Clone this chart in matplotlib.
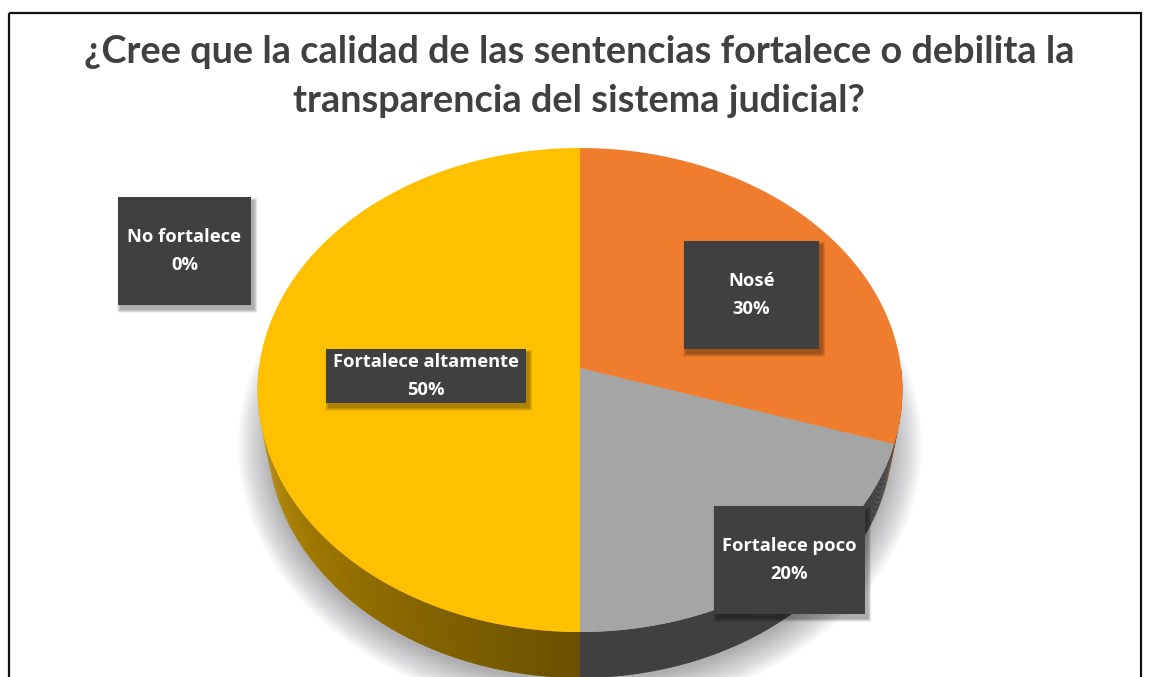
import numpy as np
import matplotlib
matplotlib.use('Agg')
import matplotlib.pyplot as plt
from matplotlib.patches import Rectangle

# Chart data
title_lines = ['¿Cree que la calidad de las sentencias fortalece o debilita la',
	'transparencia del sistema judicial?']
categories = ['Nosé', 'Fortalece poco', 'Fortalece altamente', 'No fortalece']
values = [30, 20, 50, 0]
slice_colors = ['#F07C2E', '#A5A5A5', '#FFC000', '#5B9BD5']
wall_colors = ['#8C4A1D', '#404040', '#6A5000', '#375D80']
# label box: left, top, right, bottom
boxes = [(684, 241, 819, 349), (714, 506, 865, 614), (326, 349, 526, 403), (118, 197, 251, 305)]

CX, CY = 580, 368
A, B, K = 321, 240, 0.0909
DEPTH = 46

# perspective view of the unit circle, gives the off centre apex
def project(angle, r=1.0):
	u = r * np.sin(angle)
	v = r * np.cos(angle)
	d = 1 + K * v
	return CX + A * u / d, CY - B * v / d

def rim_bottom(angle):
	x, y = project(angle)
	return CX + (x - CX) * 0.97, y + DEPTH

def draw_wall(ax, t0, t1, color, fade=False):
	edges = np.linspace(t0, t1, 81)
	for i in range(80):
		ts = np.linspace(edges[i], edges[i + 1] + 0.003, 3)
		xa, ya = project(ts)
		xb, yb = rim_bottom(ts[::-1])
		col = np.array(matplotlib.colors.to_rgb(color))
		if fade:
			# lighter towards the left side of the pie
			f = (edges[i] - np.pi) / (t1 - np.pi)
			col = col * (1 + 0.85 * f)
		ax.fill(np.r_[xa, xb], np.r_[ya, yb], color=np.clip(col, 0, 1), lw=0, zorder=3)

def draw_shadow(ax):
	ts = np.linspace(0, 2 * np.pi, 240)
	for i in range(24):
		grow = 24 - i * 1.4
		ax.fill(580 + (318 + grow) * np.sin(ts), 445 - (245 + grow) * np.cos(ts),
			color='#20202c', alpha=0.016, lw=0, zorder=1)

def draw_box(ax, box, lines):
	x0, y0, x1, y1 = box
	for i in range(7):
		g = 7 - i
		ax.add_patch(Rectangle((x0 + 3 - g / 2, y0 + 4 - g / 2), x1 - x0 + g, y1 - y0 + g,
			color='black', alpha=0.05, lw=0, zorder=5))
	ax.add_patch(Rectangle((x0, y0), x1 - x0, y1 - y0, color='#404040', lw=0, zorder=6))
	mid = (y0 + y1) / 2
	ax.text((x0 + x1) / 2, mid - 14, lines[0], color='white', fontsize=13.2, fontweight='bold',
		family='Open Sans', ha='center', va='center', zorder=7)
	ax.text((x0 + x1) / 2, mid + 14, lines[1], color='white', fontsize=13.2, fontweight='bold',
		family='Open Sans', ha='center', va='center', zorder=7)

def main():
	fig = plt.figure(figsize=(11.51, 6.77), dpi=100)
	ax = fig.add_axes([0, 0, 1, 1])
	ax.set_xlim(0, 1151)
	ax.set_ylim(677, 0)
	ax.axis('off')

	ax.add_patch(Rectangle((9.5, 12.5), 1132, 680, fill=False, ec='#111111', lw=1.6, zorder=10))

	ax.text(579, 52, title_lines[0], color='#404040', fontsize=27.3, fontweight='bold',
		family='Lato', ha='center', va='center')
	ax.text(579, 101, title_lines[1], color='#404040', fontsize=27.3, fontweight='bold',
		family='Lato', ha='center', va='center')

	draw_shadow(ax)

	stops = np.r_[0, np.cumsum(values)] / sum(values) * 2 * np.pi
	for i in range(len(values)):
		if values[i] == 0:
			continue
		t0, t1 = stops[i], stops[i + 1]
		# only the front part of the rim has a visible wall
		lo, hi = max(t0, np.pi * 0.5), min(t1, np.pi * 1.5)
		if hi > lo:
			draw_wall(ax, lo, hi, wall_colors[i], fade=(categories[i] == 'Fortalece altamente'))

	for i in range(len(values)):
		if values[i] == 0:
			continue
		ts = np.linspace(stops[i], stops[i + 1], 200)
		x, y = project(ts)
		ax.fill(np.r_[CX, x], np.r_[CY, y], color=slice_colors[i], lw=0, zorder=4)

	for i in range(len(categories)):
		draw_box(ax, boxes[i], [categories[i], '%d%%' % values[i]])

	fig.savefig('out.png', dpi=100)

if __name__ == '__main__':
	main()
